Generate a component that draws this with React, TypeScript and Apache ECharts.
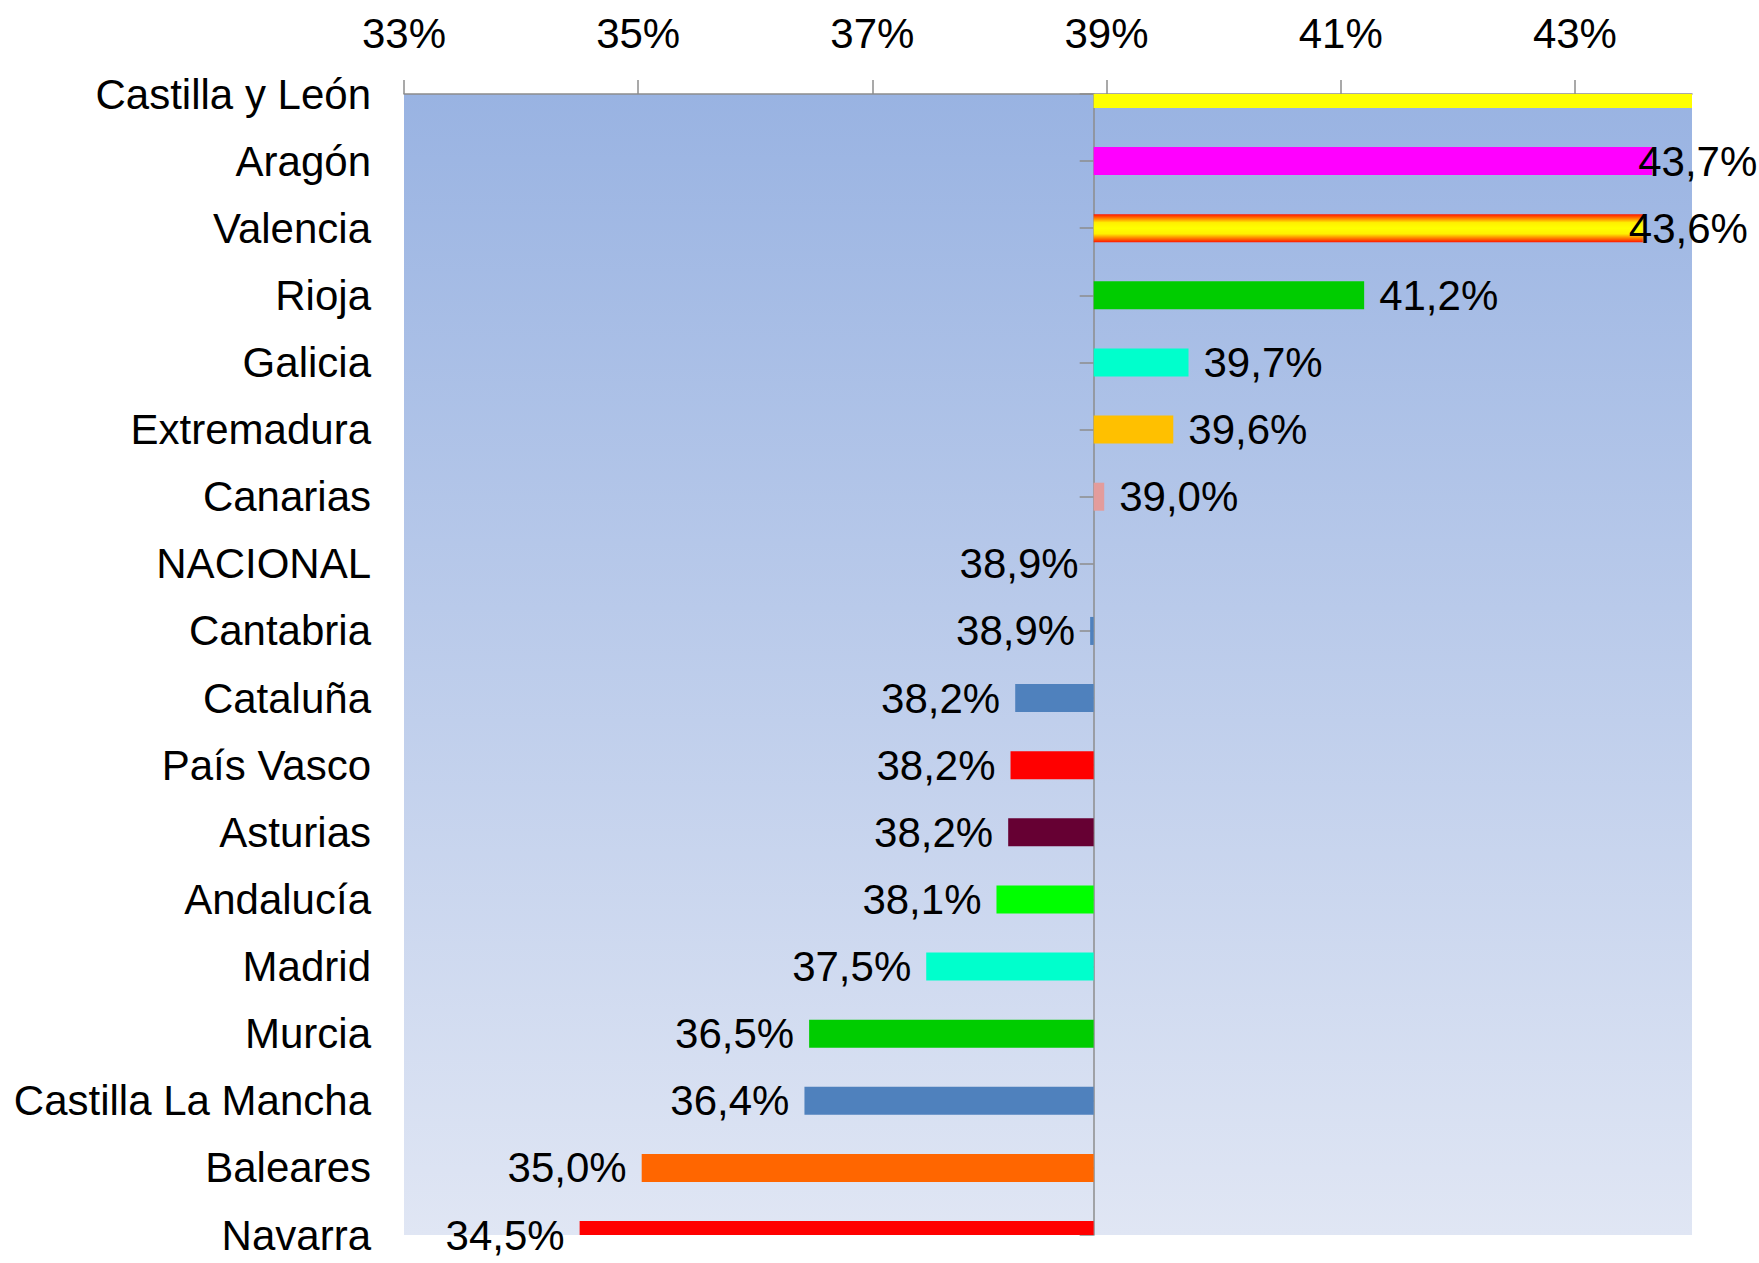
import React, { useEffect, useRef } from 'react';
import * as echarts from 'echarts';

// ---- data ----
const categories = [
  'Castilla y León', 'Aragón', 'Valencia', 'Rioja', 'Galicia', 'Extremadura', 'Canarias',
  'NACIONAL', 'Cantabria', 'Cataluña', 'País Vasco', 'Asturias', 'Andalucía', 'Madrid',
  'Murcia', 'Castilla La Mancha', 'Baleares', 'Navarra',
];
const values = [
  44.5, 43.66, 43.58, 41.2, 39.7, 39.57, 38.98,
  38.89, 38.86, 38.22, 38.18, 38.16, 38.06, 37.46,
  36.46, 36.42, 35.03, 34.5,
];
const xTickValues = [33, 35, 37, 39, 41, 43];
const xMin = 33;
const xMax = 44;
const referenceCategory = 'NACIONAL';
const hiddenLabelCategories = ['Castilla y León'];
const pulledLabelCategories = ['Aragón', 'Valencia'];

// ---- styles ----
const barColors = [
  '#FFFF00', '#FF00FF', 'flag', '#00CC00', '#00FFCC', '#FFC000', '#E39C9C',
  '#4F81BD', '#4F81BD', '#4F81BD', '#FF0000', '#660033', '#00FF00', '#00FFCC',
  '#00CC00', '#4F81BD', '#FF6600', '#FF0000',
];
const FONT = "'Liberation Sans', Arial, sans-serif";
const FS = 42;
const LH = 36;
const AXIS_GRAY = '#8C8C8C';
const BAR_H = 28;

const fmt = (v: number) => v.toFixed(1).replace('.', ',') + '%';

export default function App() {
  const ref = useRef<HTMLDivElement>(null);
  useEffect(() => {
    const el = ref.current!;
    const chart = echarts.init(el, null, { renderer: 'svg' });
    const base = values[categories.indexOf(referenceCategory)];

    const flag = new echarts.graphic.LinearGradient(0, 0, 0, 1, [
      { offset: 0, color: '#FF1500' },
      { offset: 0.3, color: '#FFF000' },
      { offset: 0.5, color: '#FFFF00' },
      { offset: 0.7, color: '#FFF000' },
      { offset: 1, color: '#FF1500' },
    ]);

    const segData = values.map((v, i) => [Math.min(v, base), Math.max(v, base), i]);

    const renderItem = (params: any, api: any) => {
      const i = params.dataIndex;
      const v = values[i];
      const cat = categories[i];
      const s = api.coord([api.value(0), api.value(2)]);
      const e = api.coord([api.value(1), api.value(2)]);
      const full = { x: s[0], y: s[1] - BAR_H / 2, width: e[0] - s[0], height: BAR_H };
      const cs = params.coordSys;
      const clipped = echarts.graphic.clipRectByRect(full, {
        x: cs.x, y: cs.y, width: cs.width, height: cs.height,
      });
      const c = barColors[i];
      const children: any[] = [];
      if (clipped && clipped.width > 0) {
        children.push({
          type: 'rect',
          shape: clipped,
          style: { fill: c === 'flag' ? flag : c },
        });
      }
      if (!hiddenLabelCategories.includes(cat)) {
        const above = v > base;
        const pulled = pulledLabelCategories.includes(cat);
        children.push({
          type: 'rect',
          shape: full,
          style: { fill: 'rgba(0,0,0,0)' },
          textContent: {
            style: { text: fmt(v), fill: '#000', fontSize: FS, fontFamily: FONT, lineHeight: LH },
          },
          textConfig: {
            position: above ? 'right' : 'left',
            distance: pulled ? -14 : 15,
          },
        });
      }
      return { type: 'group', children };
    };

    const gridLeft = 404;
    const option: any = {
      animation: false,
      backgroundColor: '#FFFFFF',
      textStyle: { fontFamily: FONT },
      grid: {
        left: gridLeft,
        top: 94,
        width: 1288,
        height: 1141,
        containLabel: false,
        outerBoundsMode: 'none',
        show: true,
        borderWidth: 0,
        backgroundColor: new echarts.graphic.LinearGradient(0, 0, 0, 1, [
          { offset: 0, color: '#99B3E2' },
          { offset: 1, color: '#E0E6F4' },
        ]),
      },
      xAxis: {
        type: 'value',
        position: 'top',
        min: xMin,
        max: xMax,
        splitLine: { show: false },
        axisLine: { show: true, lineStyle: { color: AXIS_GRAY, width: 1.5 } },
        axisTick: {
          show: true,
          inside: false,
          length: 14,
          customValues: xTickValues,
          lineStyle: { color: AXIS_GRAY, width: 1.5 },
        },
        axisLabel: {
          customValues: xTickValues,
          formatter: (v: number) => `${Math.round(v)}%`,
          margin: 40,
          color: '#000',
          fontSize: FS,
          fontFamily: FONT,
        },
      },
      yAxis: [
        {
          type: 'category',
          data: categories,
          inverse: true,
          boundaryGap: false,
          axisLine: { show: false },
          axisTick: { show: false },
          splitLine: { show: false },
          axisLabel: {
            margin: 33,
            color: '#000',
            fontSize: FS,
            lineHeight: LH,
            fontFamily: FONT,
            interval: 0,
          },
        },
        {
          type: 'category',
          data: categories,
          inverse: true,
          boundaryGap: false,
          position: 'left',
          offset: 0,
          axisLine: { show: true, onZero: false, lineStyle: { color: AXIS_GRAY, width: 1.5 } },
          axisTick: { show: true, inside: false, length: 14, interval: 0, lineStyle: { color: AXIS_GRAY, width: 1.5 } },
          axisLabel: { show: false },
          splitLine: { show: false },
        },
      ],
      series: [
        {
          type: 'custom',
          xAxisIndex: 0,
          yAxisIndex: 0,
          encode: { x: [0, 1], y: 2 },
          renderItem,
          data: segData,
          z: 3,
        },
      ],
    };
    chart.setOption(option);
    const px = chart.convertToPixel({ xAxisIndex: 0 }, base) as number;
    chart.setOption({ yAxis: [{}, { offset: -(px - gridLeft) }] });
    return () => chart.dispose();
  }, []);
  return (
    <div
      ref={ref}
      style={{ position: 'absolute', left: 0, top: 0, width: 1759, height: 1263 }}
    />
  );
}
